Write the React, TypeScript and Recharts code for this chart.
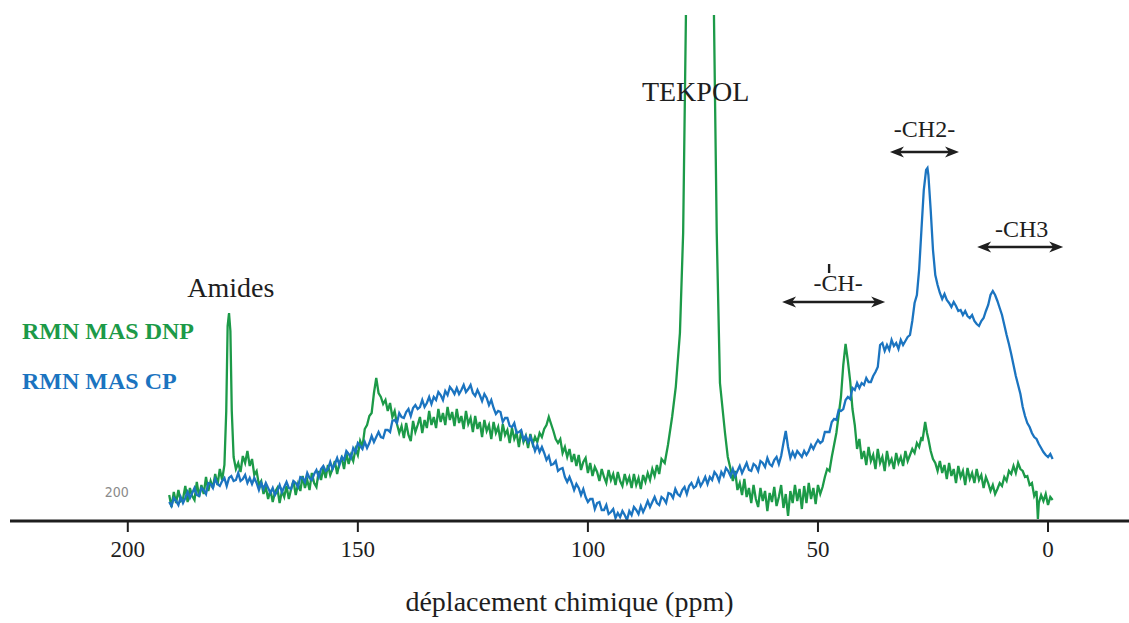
import React from 'react';
import { LineChart, Line, XAxis, YAxis, ReferenceLine, ReferenceDot, Legend, Label } from 'recharts';

// 13C spectra, intensity in arbitrary units
const dnpPpm = [
  191, 190.5, 190, 189.5, 189, 188.5, 188, 187.5, 187, 186.5, 186, 185.5, 185, 184.5, 184, 183.5, 183, 182.5, 182, 181.5,
  181, 180.5, 180, 179.5, 179, 178.6, 178.3, 178, 177.7, 177.4, 177, 176.5, 176, 175.5, 175, 174.5, 174, 173.5, 173, 172.5,
  172, 171.5, 171, 170.5, 170, 169.5, 169, 168.5, 168, 167.5, 167, 166.5, 166, 165.5, 165, 164.5, 164, 163.5, 163, 162.5,
  162, 161.5, 161, 160.5, 160, 159.5, 159, 158.5, 158, 157.5, 157, 156.5, 156, 155.5, 155, 154.5, 154, 153.5, 153, 152.5,
  152, 151.5, 151, 150.5, 150, 149.5, 149, 148.5, 148, 147.5, 147, 146.5, 146, 145.5, 145, 144.5, 144, 143.5, 143, 142.5,
  142, 141.5, 141, 140.5, 140, 139.5, 139, 138.5, 138, 137.5, 137, 136.5, 136, 135.5, 135, 134.5, 134, 133.5, 133, 132.5,
  132, 131.5, 131, 130.5, 130, 129.5, 129, 128.5, 128, 127.5, 127, 126.5, 126, 125.5, 125, 124.5, 124, 123.5, 123, 122.5,
  122, 121.5, 121, 120.5, 120, 119.5, 119, 118.5, 118, 117.5, 117, 116.5, 116, 115.5, 115, 114.5, 114, 113.5, 113, 112.5,
  112, 111.5, 111, 110.5, 110, 109.5, 109, 108.5, 108, 107.5, 107, 106.5, 106, 105.5, 105, 104.5, 104, 103.5, 103, 102.5,
  102, 101.5, 101, 100.5, 100, 99.5, 99, 98.5, 98, 97.5, 97, 96.5, 96, 95.5, 95, 94.5, 94, 93.5, 93, 92.5,
  92, 91.5, 91, 90.5, 90, 89.5, 89, 88.5, 88, 87.5, 87, 86.5, 86, 85.5, 85, 84.5, 84, 83.3, 82.6, 81.7,
  80.9, 80, 79.3, 78.7, 78.3, 75.5, 72.8, 72.6, 72, 71.3, 70.2, 69.6, 69, 68.5, 68, 67.5, 67, 66.5, 66, 65.5,
  65, 64.5, 64, 63.5, 63, 62.5, 62, 61.5, 61, 60.5, 60, 59.5, 59, 58.5, 58, 57.5, 57, 56.5, 56, 55.5,
  55, 54.5, 54, 53.5, 53, 52.5, 52, 51.5, 51, 50.5, 50, 49.5, 49, 48.5, 48, 47.5, 47, 46.5, 46, 45.5,
  45, 44.5, 44, 43.5, 43, 42.5, 42, 41.5, 41, 40.5, 40, 39.5, 39, 38.5, 38, 37.5, 37, 36.5, 36, 35.5,
  35, 34.5, 34, 33.5, 33, 32.5, 32, 31.5, 31, 30.5, 30, 29.5, 29, 28.5, 28, 27.5, 27.3, 26.7, 26.3, 26,
  25.5, 25, 24.5, 24, 23.5, 23, 22.5, 22, 21.5, 21, 20.5, 20, 19.5, 19, 18.5, 18, 17.5, 17, 16.5, 16,
  15.5, 15, 14.5, 14, 13.5, 13, 12.5, 12, 11.5, 11, 10.5, 10, 9.5, 9, 8.5, 8, 7.5, 7, 6.5, 6,
  5.5, 5, 4.5, 4, 3.5, 3, 2.5, 2.2, 2, 1.5, 1, 0.5, 0, -0.5, -1,
];
const dnpIntensity = [
  26, 14, 29, 18, 31, 20, 22, 35, 19, 33, 25, 21, 39, 24, 36, 27, 44, 30, 40, 33,
  47, 36, 52, 41, 56, 110, 195, 208, 190, 110, 64, 52, 58, 49, 65, 58, 70, 55, 62, 46,
  50, 36, 40, 27, 34, 22, 31, 19, 29, 33, 18, 30, 24, 35, 22, 32, 40, 26, 37, 30,
  45, 33, 41, 31, 48, 38, 34, 50, 41, 53, 43, 56, 46, 52, 60, 47, 58, 63, 52, 68,
  57, 66, 60, 72, 66, 80, 74, 92, 96, 105, 108, 128, 143, 128, 124, 117, 121, 110, 118, 104,
  110, 97, 88, 95, 83, 98, 86, 80, 100, 89, 96, 104, 88, 101, 93, 110, 96, 104, 93, 112,
  99, 108, 96, 114, 101, 109, 95, 112, 98, 105, 92, 110, 97, 103, 89, 105, 92, 99, 84, 101,
  90, 96, 82, 99, 88, 94, 80, 97, 86, 91, 78, 93, 82, 88, 74, 90, 79, 85, 73, 87,
  77, 84, 79, 88, 84, 92, 96, 104, 97, 90, 82, 78, 82, 68, 74, 64, 72, 59, 67, 55,
  66, 51, 59, 63, 48, 58, 45, 54, 49, 40, 52, 44, 38, 51, 41, 47, 36, 49, 40, 35,
  47, 38, 44, 33, 47, 36, 43, 32, 46, 39, 48, 41, 52, 45, 56, 47, 62, 58, 76, 104,
  134, 188, 288, 504, 1800, 900, 1800, 504, 288, 138, 88, 64, 52, 40, 50, 31, 38, 26, 42, 24,
  33, 18, 36, 22, 14, 33, 20, 30, 10, 28, 19, 34, 15, 24, 36, 13, 27, 5, 30, 18,
  36, 20, 32, 12, 35, 18, 38, 22, 33, 17, 36, 27, 34, 44, 52, 50, 64, 76, 88, 106,
  124, 156, 177, 160, 140, 112, 96, 72, 82, 62, 70, 56, 74, 60, 66, 52, 72, 58, 64, 50,
  70, 57, 62, 52, 68, 58, 64, 55, 70, 60, 66, 72, 68, 78, 74, 84, 80, 99, 88, 82,
  70, 62, 58, 50, 60, 48, 56, 42, 58, 45, 52, 38, 55, 44, 50, 36, 53, 42, 48, 38,
  52, 41, 46, 33, 44, 38, 30, 36, 27, 32, 38, 35, 44, 40, 50, 47, 55, 48, 58, 52,
  50, 44, 45, 36, 38, 25, 30, 2, 18, 26, 20, 27, 16, 24, 21,
];

const cpPpm = [
  191, 190.5, 190, 189.5, 189, 188.5, 188, 187.5, 187, 186.5, 186, 185.5, 185, 184.5, 184, 183.5, 183, 182.5, 182, 181.5,
  181, 180.5, 180, 179.5, 179, 178.5, 178, 177.5, 177, 176.5, 176, 175.5, 175, 174.5, 174, 173.5, 173, 172.5, 172, 171.5,
  171, 170.5, 170, 169.5, 169, 168.5, 168, 167.5, 167, 166.5, 166, 165.5, 165, 164.5, 164, 163.5, 163, 162.5, 162, 161.5,
  161, 160.5, 160, 159.5, 159, 158.5, 158, 157.5, 157, 156.5, 156, 155.5, 155, 154.5, 154, 153.5, 153, 152.5, 152, 151.5,
  151, 150.5, 150, 149.5, 149, 148.5, 148, 147.5, 147, 146.5, 146, 145.5, 145, 144.5, 144, 143.5, 143, 142.5, 142, 141.5,
  141, 140.5, 140, 139.5, 139, 138.5, 138, 137.5, 137, 136.5, 136, 135.5, 135, 134.5, 134, 133.5, 133, 132.5, 132, 131.5,
  131, 130.5, 130, 129.5, 129, 128.5, 128, 127.5, 127, 126.5, 126, 125.5, 125, 124.5, 124, 123.5, 123, 122.5, 122, 121.5,
  121, 120.5, 120, 119.5, 119, 118.5, 118, 117.5, 117, 116.5, 116, 115.5, 115, 114.5, 114, 113.5, 113, 112.5, 112, 111.5,
  111, 110.5, 110, 109.5, 109, 108.5, 108, 107.5, 107, 106.5, 106, 105.5, 105, 104.5, 104, 103.5, 103, 102.5, 102, 101.5,
  101, 100.5, 100, 99.5, 99, 98.5, 98, 97.5, 97, 96.5, 96, 95.5, 95, 94.5, 94, 93.5, 93, 92.5, 92, 91.5,
  91, 90.5, 90, 89.5, 89, 88.5, 88, 87.5, 87, 86.5, 86, 85.5, 85, 84.5, 84, 83.5, 83, 82.5, 82, 81.5,
  81, 80.5, 80, 79.5, 79, 78.5, 78, 77.5, 77, 76.5, 76, 75.5, 75, 74.5, 74, 73.5, 73, 72.5, 72, 71.5,
  71, 70.5, 70, 69.5, 69, 68.5, 68, 67.5, 67, 66.5, 66, 65.5, 65, 64.5, 64, 63.5, 63, 62.5, 62, 61.5,
  61, 60.5, 60, 59.5, 59, 58.5, 58, 57.5, 57, 56.5, 56, 55.5, 55, 54.5, 54, 53.5, 53, 52.5, 52, 51.5,
  51, 50.5, 50, 49.5, 49, 48.5, 48, 47.5, 47, 46.5, 46, 45.5, 45, 44.5, 44, 43.5, 43, 42.5, 42, 41.5,
  41, 40.5, 40, 39.5, 39, 38.5, 38, 37.5, 37, 36.5, 36, 35.5, 35, 34.5, 34, 33.5, 33, 32.5, 32, 31.5,
  31, 30.5, 30, 29.5, 29, 28.5, 28, 27.5, 27, 26.5, 26.2, 26, 25.5, 25, 24.5, 24, 23.5, 23, 22.5, 22,
  21.5, 21, 20.5, 20, 19.5, 19, 18.5, 18, 17.5, 17, 16.5, 16, 15.5, 15, 14.5, 14, 13.5, 13, 12.5, 12,
  11.5, 11, 10.5, 10, 9.5, 9, 8.5, 8, 7.5, 7, 6.5, 6, 5.5, 5, 4.5, 4, 3.5, 3, 2.5, 2,
  1.5, 1, 0.5, 0, -0.5, -1,
];
const cpIntensity = [
  19, 15, 23, 20, 16, 24, 18, 23, 29, 23, 28, 33, 26, 25, 33, 31, 27, 38, 37, 33,
  42, 37, 35, 40, 43, 35, 43, 45, 40, 41, 48, 40, 42, 46, 38, 43, 37, 43, 38, 31,
  38, 32, 38, 33, 28, 33, 26, 30, 36, 29, 34, 39, 33, 32, 40, 38, 34, 44, 43, 39,
  48, 43, 41, 47, 51, 44, 52, 55, 50, 52, 59, 52, 57, 63, 56, 64, 61, 70, 67, 63,
  73, 69, 78, 75, 72, 79, 73, 78, 85, 79, 84, 89, 84, 83, 91, 91, 89, 100, 101, 98,
  108, 104, 103, 109, 112, 105, 113, 116, 112, 114, 121, 114, 118, 124, 117, 124, 121, 129, 126, 121,
  130, 126, 134, 131, 127, 133, 127, 131, 136, 129, 132, 136, 128, 125, 131, 126, 120, 127, 123, 116,
  121, 113, 107, 110, 109, 99, 103, 103, 95, 94, 98, 88, 89, 91, 81, 85, 79, 84, 78, 70,
  76, 69, 74, 68, 61, 65, 56, 57, 60, 50, 52, 53, 44, 39, 44, 38, 31, 37, 33, 26,
  32, 24, 19, 22, 22, 12, 18, 19, 11, 11, 16, 7, 9, 12, 3, 8, 4, 10, 6, 1,
  10, 6, 14, 11, 7, 15, 9, 14, 20, 14, 19, 24, 18, 16, 24, 22, 18, 28, 27, 23,
  32, 27, 25, 31, 34, 27, 35, 38, 33, 35, 42, 35, 39, 44, 37, 44, 41, 49, 46, 40,
  49, 45, 53, 50, 45, 52, 45, 50, 55, 48, 53, 58, 51, 50, 57, 55, 50, 60, 58, 54,
  63, 57, 55, 61, 64, 57, 65, 78, 90, 74, 63, 69, 64, 70, 67, 64, 70, 66, 70, 76,
  72, 77, 81, 78, 80, 89, 89, 89, 99, 102, 101, 111, 110, 112, 121, 124, 122, 133, 131, 138,
  133, 138, 136, 143, 139, 139, 145, 149, 154, 176, 178, 170, 176, 171, 181, 175, 178, 172, 181, 176,
  180, 184, 186, 200, 218, 226, 252, 292, 331, 351, 353, 346, 311, 271, 246, 236, 228, 222, 227, 221,
  218, 214, 219, 215, 210, 211, 206, 210, 205, 203, 206, 200, 197, 195, 200, 203, 210, 216, 226, 230,
  226, 220, 213, 206, 196, 186, 177, 167, 156, 145, 136, 127, 114, 105, 98, 94, 88, 84, 82, 77,
  73, 69, 66, 64, 67, 62,
];

const ppmTicks = [0, 50, 100, 150, 200];

const dnpData = dnpPpm.map((ppm, i) => ({ ppm, value: dnpIntensity[i] }));
const cpData = cpPpm.map((ppm, i) => ({ ppm, value: cpIntensity[i] }));

const GREEN = '#1c9a48';
const BLUE = '#1b74c0';
const INK = '#1e1e1e';
const SERIF = '"Liberation Serif", "DejaVu Serif", serif';

const DoubleArrow = (props: any) => {
  const { x1, y1, x2, y2 } = props;
  const left = Math.min(x1, x2);
  const right = Math.max(x1, x2);
  const y = (y1 + y2) / 2;
  const len = 14;
  const half = 5.5;
  return (
    <g>
      <line x1={left + 6} y1={y} x2={right - 6} y2={y} stroke={INK} strokeWidth={2.6} />
      <path d={`M${left},${y} L${left + len},${y - half} L${left + len - 4},${y} L${left + len},${y + half} Z`} fill={INK} />
      <path d={`M${right},${y} L${right - len},${y - half} L${right - len + 4},${y} L${right - len},${y + half} Z`} fill={INK} />
    </g>
  );
};

const arrowLabel = (text: string, dx: number, rise: number, bar = false) => (props: any) => {
  const vb = props.viewBox;
  const cx = vb.x + vb.width / 2 + dx;
  const base = vb.y - rise;
  return (
    <g>
      <text x={cx} y={base} textAnchor="middle" fontFamily={SERIF} fontSize={24} fill={INK}>
        {text}
      </text>
      {bar && <line x1={cx - 9} y1={base - 27} x2={cx - 9} y2={base - 18} stroke={INK} strokeWidth={2.4} />}
    </g>
  );
};

const pointLabel = (text: string, size: number, fill: string, family: string) => (props: any) => {
  const vb = props.viewBox;
  return (
    <text x={vb.x + vb.width / 2} y={vb.y + vb.height / 2} textAnchor="middle" fontFamily={family} fontSize={size} fill={fill}>
      {text}
    </text>
  );
};

const LegendBox = () => (
  <div style={{ fontFamily: SERIF, fontWeight: 'bold', fontSize: 24, lineHeight: '50px', whiteSpace: 'nowrap' }}>
    <div style={{ color: GREEN }}>RMN MAS DNP</div>
    <div style={{ color: BLUE }}>RMN MAS CP</div>
  </div>
);

export default function App() {
  return (
    <div style={{ position: 'absolute', left: 0, top: 0, width: 1129, height: 623, background: '#fff' }}>
      <LineChart width={1129} height={623} margin={{ top: 15, right: 0, left: 10, bottom: 0 }}>
        <XAxis
          dataKey="ppm"
          type="number"
          domain={[-17.6, 225.6]}
          reversed
          allowDataOverflow
          ticks={ppmTicks}
          interval={0}
          height={102}
          axisLine={{ stroke: INK, strokeWidth: 3 }}
          tickLine={{ stroke: INK, strokeWidth: 2 }}
          tickSize={11}
          tickMargin={9}
          tick={{ fontSize: 23, fill: INK, fontFamily: SERIF }}
        >
          <Label value="déplacement chimique (ppm)" position="insideBottom" offset={12} style={{ fontSize: 28, fill: INK, fontFamily: SERIF }} />
        </XAxis>
        <YAxis type="number" domain={[0, 506]} allowDataOverflow hide />
        <Legend layout="horizontal" verticalAlign="middle" align="center" wrapperStyle={{ top: 306, left: 22, width: 'auto' }} content={() => <LegendBox />} />

        <Line data={dnpData} dataKey="value" name="RMN MAS DNP" type="linear" stroke={GREEN} strokeWidth={2.3} dot={false} isAnimationActive={false} />
        <Line data={cpData} dataKey="value" name="RMN MAS CP" type="linear" stroke={BLUE} strokeWidth={2.3} dot={false} isAnimationActive={false} />

        <ReferenceLine segment={[{ x: 34.35, y: 369 }, { x: 19.35, y: 369 }]} shape={DoubleArrow} label={arrowLabel('-CH2-', 0, 15)} />
        <ReferenceLine segment={[{ x: 15.4, y: 274 }, { x: -3.3, y: 274 }]} shape={DoubleArrow} label={arrowLabel('-CH3', 1.5, 10)} />
        <ReferenceLine segment={[{ x: 57.8, y: 219 }, { x: 35.4, y: 219 }]} shape={DoubleArrow} label={arrowLabel('-CH-', 4.5, 11, true)} />

        <ReferenceDot x={177.6} y={224} r={0} fill="none" stroke="none" label={pointLabel('Amides', 28, INK, SERIF)} />
        <ReferenceDot x={76.6} y={420} r={0} fill="none" stroke="none" label={pointLabel('TEKPOL', 28, INK, SERIF)} />
        <ReferenceDot x={202.4} y={24} r={0} fill="none" stroke="none" label={pointLabel('200', 14, '#8a8a8a', '"Liberation Sans Narrow", "DejaVu Sans Condensed", sans-serif')} />
      </LineChart>
    </div>
  );
}
